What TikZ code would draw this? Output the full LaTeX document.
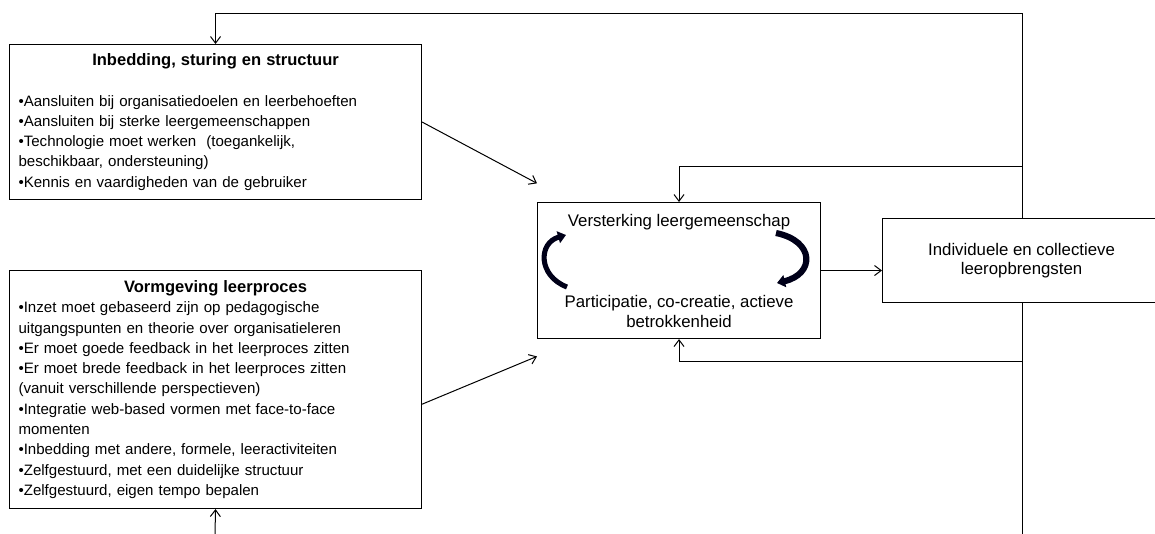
\documentclass[tikz,border=0pt]{standalone}
\usepackage{fontspec}
\setmainfont{Liberation Sans}
\usetikzlibrary{arrows.meta, backgrounds}

\newlength\px
\setlength\px{0.75pt}
\newcommand{\blocktitle}[1]{{\centering\fontsize{12.4}{15.2}\selectfont\bfseries #1\par}}

\tikzset{
    block/.style={draw, line width=0.8pt, fill=white, inner sep=0pt,
        font=\fontsize{11.3}{15.2}\selectfont},
    bigblock/.style={block, font=\fontsize{12.6}{14.6}\selectfont},
    conn/.style={line width=0.75pt, -{Straight Barb[length=5pt, width=7.5pt]}},
    curl/.style={line width=3.8pt, color=black!90!blue,
        -{Triangle[length=6pt, width=9pt]}}
}

\begin{document}
\begin{tikzpicture}[x=0.75pt, y=-0.75pt]
        \useasboundingbox (0, 0) rectangle (1155, 534);

        % blocks
        \node[block, anchor=north west, minimum width=412\px, minimum height=155\px,
            text width=394\px, align=left] (inbed) at (9, 44)
            {\blocktitle{Inbedding, sturing en structuur}\vspace{15.2pt}
            •Aansluiten bij organisatiedoelen en leerbehoeften\\
            •Aansluiten bij sterke leergemeenschappen\\
            •Technologie moet werken~ (toegankelijk,\\
            beschikbaar, ondersteuning)\\
            •Kennis en vaardigheden van de gebruiker};
        \node[block, anchor=north west, minimum width=412\px, minimum height=238\px,
            text width=394\px, align=left] (vorm) at (9, 270)
            {\blocktitle{Vormgeving leerproces}
            •Inzet moet gebaseerd zijn op pedagogische\\
            uitgangspunten en theorie over organisatieleren\\
            •Er moet goede feedback in het leerproces zitten\\
            •Er moet brede feedback in het leerproces zitten\\
            (vanuit verschillende perspectieven)\\
            •Integratie web-based vormen met face-to-face\\
            momenten\\
            •Inbedding met andere, formele, leeractiviteiten\\
            •Zelfgestuurd, met een duidelijke structuur\\
            •Zelfgestuurd, eigen tempo bepalen};
        \node[bigblock, anchor=north west, minimum width=283\px, minimum height=136\px,
            align=center] (centre) at (537, 202)
            {Versterking leergemeenschap\\[46.5pt]
            Participatie, co-creatie, actieve\\betrokkenheid};
        \node[bigblock, anchor=north west, minimum width=278\px, minimum height=84\px,
            align=center] (opbrengst) at (882, 218)
            {Individuele en collectieve\\leeropbrengsten};

        % curved arrows inside the centre block
        \draw[curl] (567, 287) .. controls (538, 276) and (538, 243) .. (566, 235);
        \draw[curl, line width=4.6pt] (776, 233) .. controls (815, 241) and (815, 274) .. (777, 283);

        % arrows into the centre block
        \draw[conn] (inbed.east) -- ([yshift=14pt]centre.north west);
        \draw[conn] ([yshift=-11pt]vorm.east) -- ([yshift=-13pt]centre.south west);
        \draw[conn] (centre.east) -- (opbrengst.west |- centre.east);

        % feedback loops
        \coordinate (loop) at (1022, 534);
        \coordinate (top) at (1022, 14);
        \coordinate (fbA) at (1022, 167);
        \coordinate (fbB) at (1022, 361);
        \coordinate (start) at (215, 534);
        \begin{scope}[on background layer]
            \draw[conn] (loop) -- (top) -| (inbed.north);
        \end{scope}
        \draw[conn] (fbA) -| (centre.north);
        \draw[conn] (fbB) -| (centre.south);
        \draw[conn] (start) -- (vorm.south);
    \end{tikzpicture}
\end{document}
